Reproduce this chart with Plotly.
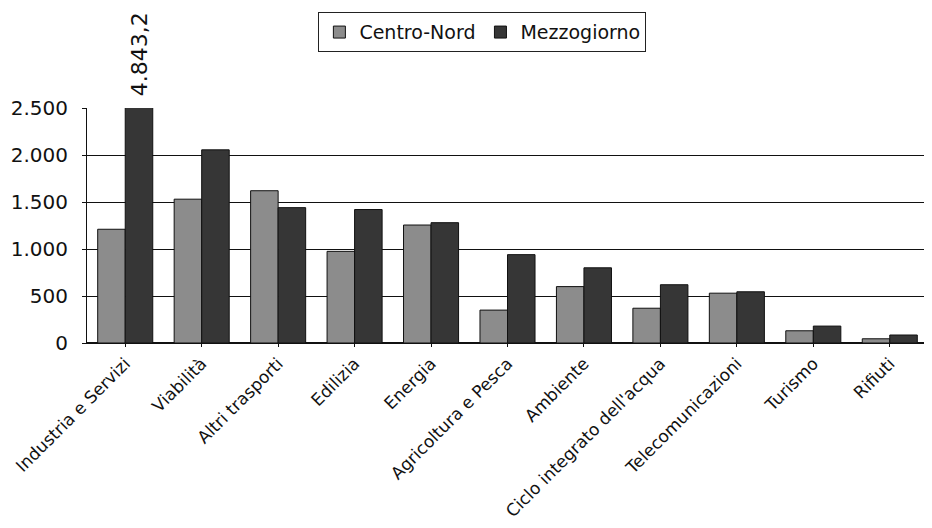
import plotly.graph_objects as go

categories = ["Industria e Servizi", "Viabilità", "Altri trasporti", "Edilizia", "Energia",
              "Agricoltura e Pesca", "Ambiente", "Ciclo integrato dell'acqua",
              "Telecomunicazioni", "Turismo", "Rifiuti"]
centro_nord = [1210, 1530, 1620, 975, 1255, 350, 600, 370, 530, 130, 45]
mezzogiorno = [4843.2, 2055, 1440, 1420, 1280, 940, 800, 620, 545, 180, 85]
y_ticks = [0, 500, 1000, 1500, 2000, 2500]
y_max = 2500
outlier_label = "4.843,2"

FONT = "DejaVu Sans"

fig = go.Figure()
fig.add_trace(go.Bar(name="Centro-Nord", x=categories, y=centro_nord,
                     marker=dict(color="#8c8c8c", line=dict(color="#111111", width=1))))
fig.add_trace(go.Bar(name="Mezzogiorno", x=categories, y=mezzogiorno,
                     marker=dict(color="#363636", line=dict(color="#111111", width=1))))

fig.add_annotation(x=categories[0], y=y_max, xref="x", yref="y", text=outlier_label,
                   textangle=-90, showarrow=False, xshift=14, yshift=10, yanchor="bottom",
                   font=dict(family=FONT, size=22, color="#111111"))

fig.update_layout(
    width=932, height=528,
    margin=dict(l=79, r=12, t=100, b=193),
    paper_bgcolor="white", plot_bgcolor="white",
    barmode="group", bargap=0.28, bargroupgap=0,
    separators=",.",
    font=dict(family=FONT, color="#111111"),
    legend=dict(orientation="h", xref="container", yref="container",
                x=0.509, xanchor="center", y=0.992, yanchor="top",
                bordercolor="#222222", borderwidth=1,
                font=dict(family=FONT, size=19, color="#111111"),
                itemwidth=30, traceorder="normal"),
    showlegend=True,
)
fig.update_yaxes(range=[0, y_max], tickvals=y_ticks, tickformat=",d", automargin=False,
                 showgrid=True, gridcolor="#111111", gridwidth=1,
                 showline=True, linecolor="#111111", linewidth=1,
                 zeroline=True, zerolinecolor="#111111",
                 ticks="outside", ticklen=4, tickcolor="#111111", ticklabelstandoff=10,
                 tickfont=dict(family=FONT, size=20, color="#111111"))
fig.update_xaxes(tickangle=-45, automargin=False,
                 tickfont=dict(family=FONT, size=17, color="#111111"),
                 showline=True, linecolor="#111111", linewidth=1,
                 ticks="outside", ticklen=3, tickcolor="#111111")

fig.write_html("out.html")
